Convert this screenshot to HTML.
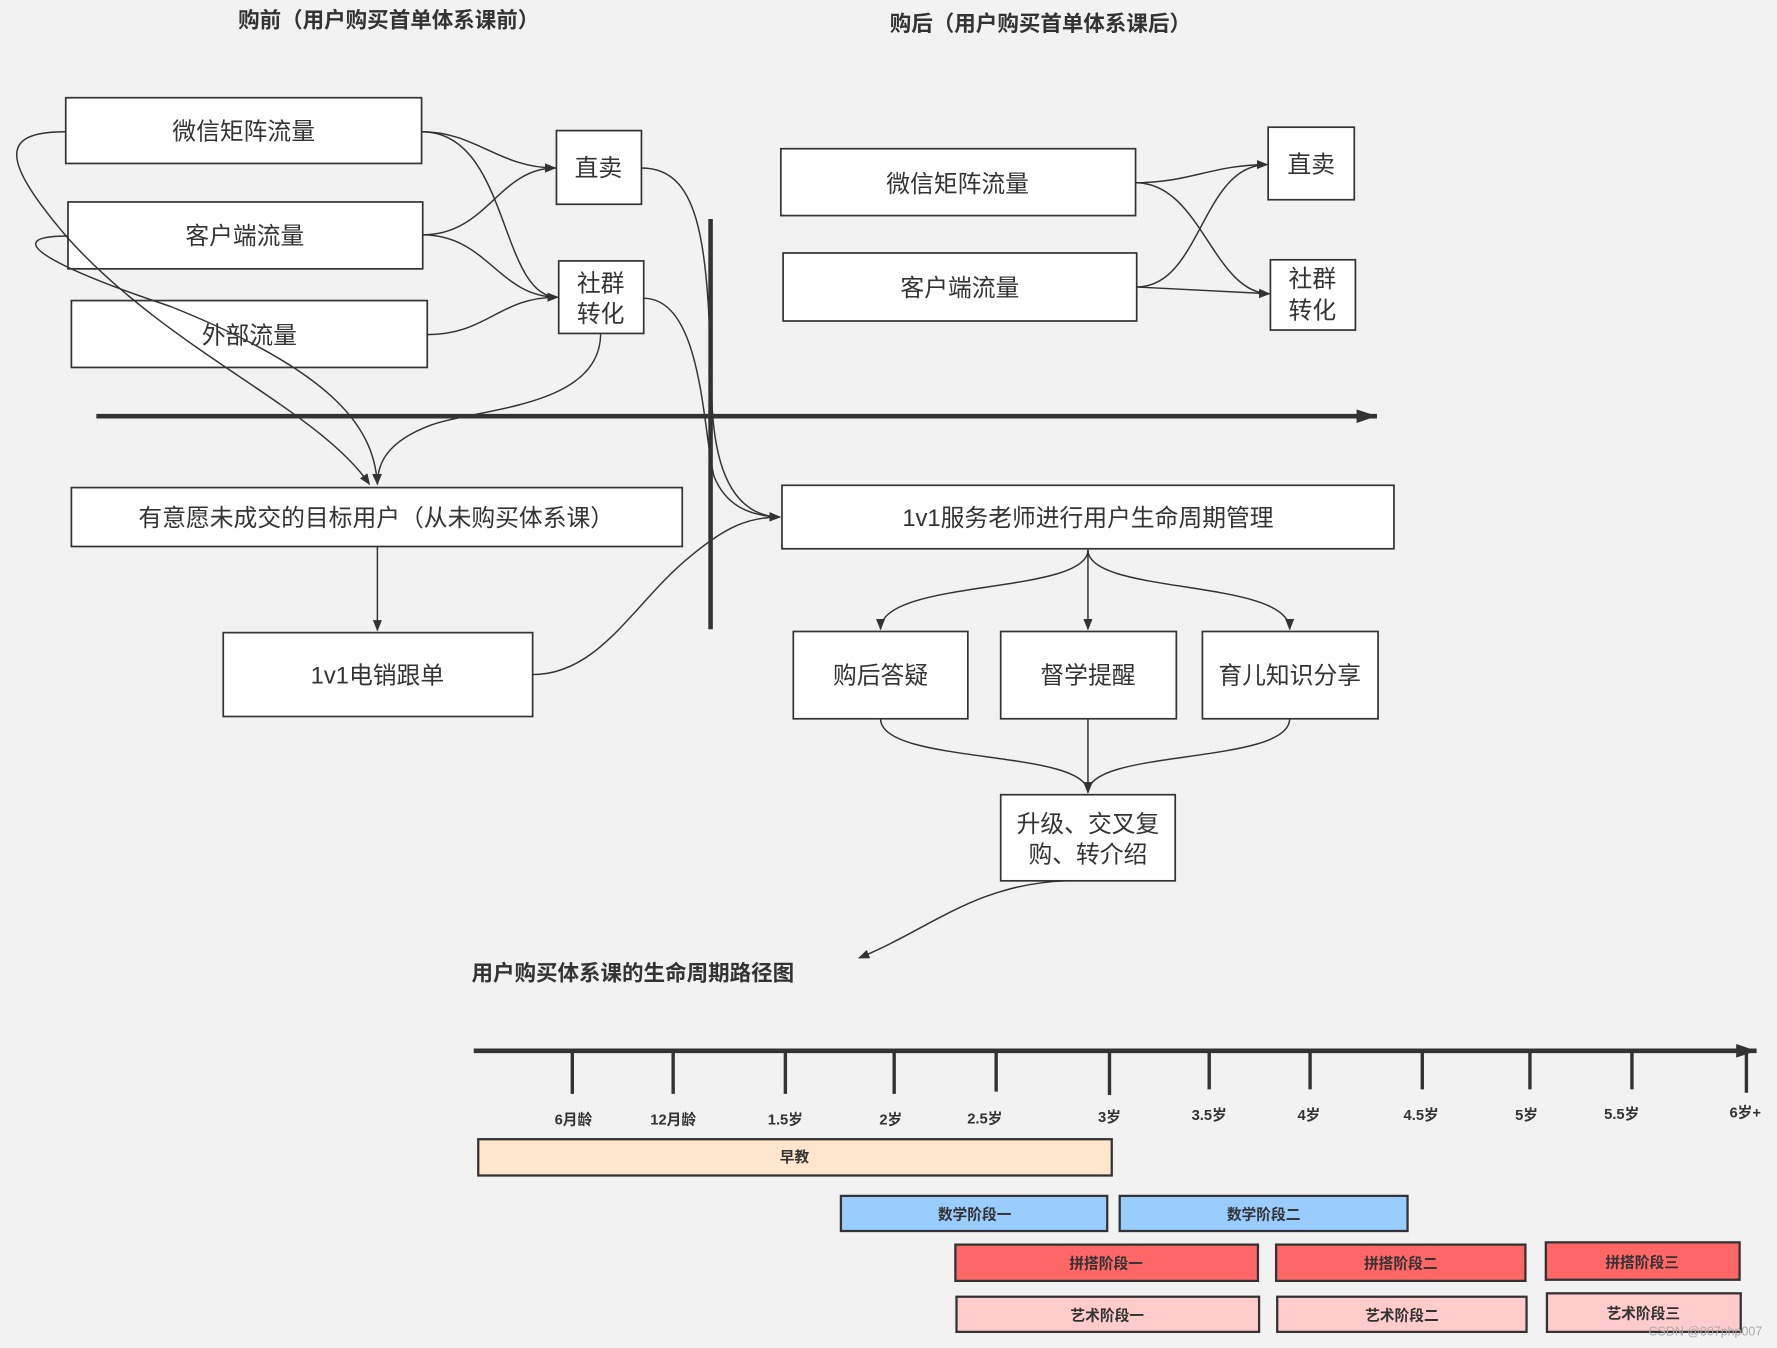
<!DOCTYPE html>
<html><head><meta charset="utf-8"><style>
html,body{margin:0;padding:0;background:#f2f2f2;}
svg{display:block;}
text{font-family:"Liberation Sans","Noto Sans CJK SC",sans-serif;fill:#333;}
</style></head><body>
<svg width="1777" height="1348" viewBox="0 0 1568 1189" xmlns="http://www.w3.org/2000/svg">
<defs>
<marker id="a" markerWidth="10" markerHeight="10" refX="9" refY="5" orient="auto" markerUnits="userSpaceOnUse"><path d="M0,1 L10,5 L0,9 z" fill="#333"/></marker>
<marker id="b" markerWidth="20" markerHeight="14" refX="18" refY="7" orient="auto" markerUnits="userSpaceOnUse"><path d="M0,1 L18,7 L0,13 z" fill="#333"/></marker>
</defs>
<rect width="1568" height="1189" fill="#f2f2f2"/>
<text x="343" y="24" font-size="19" font-weight="bold" text-anchor="middle">购前（用户购买首单体系课前）</text>
<text x="918" y="27" font-size="19" font-weight="bold" text-anchor="middle">购后（用户购买首单体系课后）</text>
<g stroke="#333" stroke-width="1.5" fill="#fff">
<rect x="58" y="86" width="314" height="58"/>
<rect x="60" y="178" width="313" height="59"/>
<rect x="63" y="265" width="314" height="59"/>
<rect x="491" y="115" width="75" height="65"/>
<rect x="493" y="230" width="75" height="64"/>
<rect x="63" y="430" width="539" height="52"/>
<rect x="197" y="558" width="273" height="74"/>
<rect x="689" y="131" width="313" height="59"/>
<rect x="691" y="223" width="312" height="60"/>
<rect x="1119" y="112" width="76" height="64"/>
<rect x="1121" y="229" width="75" height="62"/>
<rect x="690" y="428" width="540" height="56"/>
<rect x="700" y="557" width="154" height="77"/>
<rect x="883" y="557" width="155" height="77"/>
<rect x="1061" y="557" width="155" height="77"/>
<rect x="883" y="701" width="154" height="76"/>
</g>
<g font-size="21" text-anchor="middle">
<text x="215" y="123">微信矩阵流量</text>
<text x="216" y="215">客户端流量</text>
<text x="220" y="303">外部流量</text>
<text x="528" y="155">直卖</text>
<text x="530" y="257">社群</text><text x="530" y="284">转化</text>
<text x="332" y="464">有意愿未成交的目标用户（从未购买体系课）</text>
<text x="333" y="603">1v1电销跟单</text>
<text x="845" y="169">微信矩阵流量</text>
<text x="847" y="261">客户端流量</text>
<text x="1157" y="152">直卖</text>
<text x="1158" y="253">社群</text><text x="1158" y="281">转化</text>
<text x="960" y="464">1v1服务老师进行用户生命周期管理</text>
<text x="777" y="603">购后答疑</text>
<text x="960" y="603">督学提醒</text>
<text x="1138" y="603">育儿知识分享</text>
<text x="960" y="734">升级、交叉复</text><text x="960" y="761">购、转介绍</text>
</g>
<g stroke="#333" stroke-width="4">
<line x1="85" y1="367" x2="1215" y2="367" marker-end="url(#b)"/>
<line x1="627" y1="193" x2="627" y2="555"/>
<line x1="418" y1="927" x2="1550" y2="927" marker-end="url(#b)"/>
</g>
<g stroke="#333" stroke-width="1.3" fill="none" marker-end="url(#a)">
<path d="M372,116 C420,116 440,148 490,148"/>
<path d="M372,116 C450,116 440,262 492,262"/>
<path d="M373,207 C430,207 440,148 490,148"/>
<path d="M373,207 C430,207 440,262 492,262"/>
<path d="M377,295 C430,295 440,262 492,262"/>
<path d="M58,116 C0,116 0,140 60,210 C150,310 280,360 326,427"/>
<path d="M60,208 C-10,208 60,240 150,270 C300,330 330,380 333,427"/>
<path d="M530,294 C530,360 420,360 380,375 C340,390 333,410 333,427"/>
<path d="M333,482 L333,556"/>
<path d="M566,148 C620,148 625,220 628,350 C630,420 650,455 688,456"/>
<path d="M568,263 C620,263 620,380 630,420 C640,445 660,455 688,456"/>
<path d="M470,595 C530,595 560,530 610,490 C640,465 660,456 688,456"/>
<path d="M1002,161 C1050,161 1070,145 1118,145"/>
<path d="M1002,161 C1060,161 1070,258 1120,259"/>
<path d="M1003,253 C1060,253 1060,145 1118,145"/>
<path d="M1003,253 L1120,259"/>
<path d="M960,485 C960,525 777,510 777,555"/>
<path d="M960,485 L960,555"/>
<path d="M960,485 C960,525 1138,510 1138,555"/>
<path d="M777,634 C777,675 960,660 960,699"/>
<path d="M960,634 L960,699"/>
<path d="M1138,634 C1138,675 960,660 960,699"/>
<path d="M940,777 C860,780 820,820 758,845"/>
</g>
<text x="416" y="865" font-size="19" font-weight="bold">用户购买体系课的生命周期路径图</text>
<g stroke="#333" stroke-width="3">
<line x1="505" y1="927" x2="505" y2="965"/><line x1="594" y1="927" x2="594" y2="965"/>
<line x1="693" y1="927" x2="693" y2="965"/><line x1="789" y1="927" x2="789" y2="965"/>
<line x1="879" y1="927" x2="879" y2="963"/><line x1="979" y1="927" x2="979" y2="966"/>
<line x1="1067" y1="927" x2="1067" y2="961"/><line x1="1156" y1="927" x2="1156" y2="961"/>
<line x1="1255" y1="927" x2="1255" y2="961"/><line x1="1350" y1="927" x2="1350" y2="961"/>
<line x1="1440" y1="927" x2="1440" y2="961"/><line x1="1541" y1="927" x2="1541" y2="964"/>
</g>
<g font-size="13" font-weight="bold" text-anchor="middle">
<text x="506" y="992">6月龄</text><text x="594" y="992">12月龄</text><text x="693" y="992">1.5岁</text>
<text x="786" y="992">2岁</text><text x="869" y="991">2.5岁</text><text x="979" y="990">3岁</text>
<text x="1067" y="988">3.5岁</text><text x="1155" y="988">4岁</text><text x="1254" y="988">4.5岁</text>
<text x="1347" y="988">5岁</text><text x="1431" y="987">5.5岁</text><text x="1540" y="986">6岁+</text>
</g>
<g stroke="#333" stroke-width="2">
<rect x="422" y="1005" width="559" height="32" fill="#ffe6cc"/>
<rect x="742" y="1055" width="235" height="31" fill="#99ccff"/>
<rect x="988" y="1055" width="254" height="31" fill="#99ccff"/>
<rect x="843" y="1098" width="267" height="32" fill="#ff6666"/>
<rect x="1126" y="1098" width="220" height="32" fill="#ff6666"/>
<rect x="1364" y="1096" width="171" height="33" fill="#ff6666"/>
<rect x="844" y="1144" width="267" height="31" fill="#ffcccc"/>
<rect x="1127" y="1144" width="220" height="31" fill="#ffcccc"/>
<rect x="1365" y="1141" width="171" height="34" fill="#ffcccc"/>
</g>
<g font-size="13" font-weight="bold" text-anchor="middle">
<text x="701" y="1025">早教</text>
<text x="860" y="1076">数学阶段一</text><text x="1115" y="1076">数学阶段二</text>
<text x="976" y="1119">拼搭阶段一</text><text x="1236" y="1119">拼搭阶段二</text><text x="1449" y="1118">拼搭阶段三</text>
<text x="977" y="1165">艺术阶段一</text><text x="1237" y="1165">艺术阶段二</text><text x="1450" y="1163">艺术阶段三</text>
</g>
<text x="1555" y="1178" font-size="11" text-anchor="end" fill="#aaa" style="fill:#aaa">CSDN @007php007</text>
</svg>
</body></html>
